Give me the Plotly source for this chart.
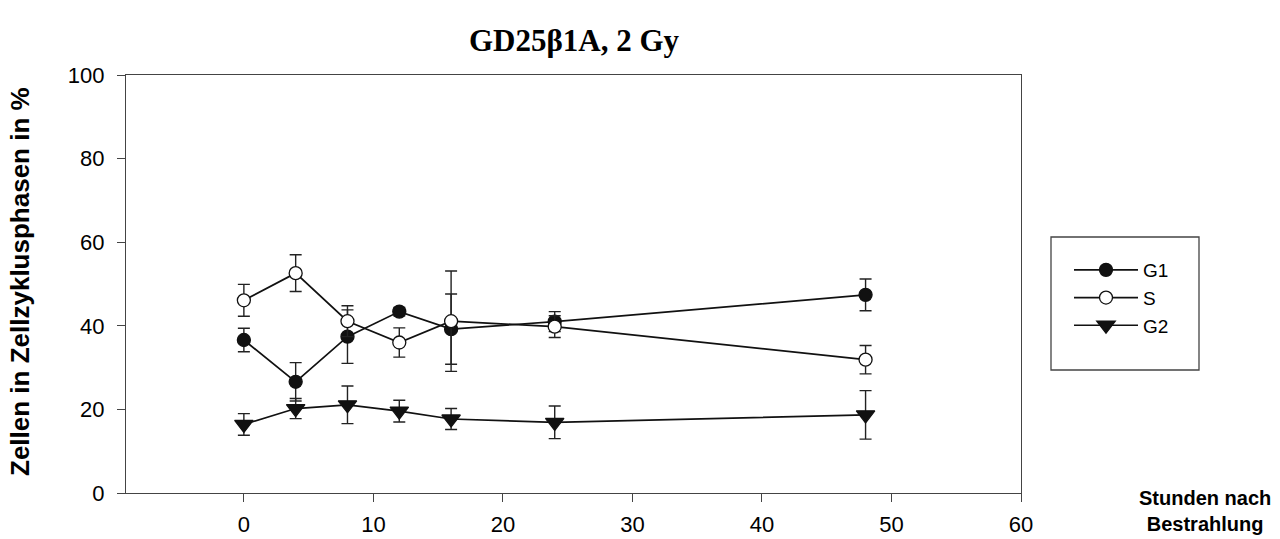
import plotly.graph_objects as go

hours = [0, 4, 8, 12, 16, 24, 48]
g1 = [36.6, 26.6, 37.4, 43.4, 39.2, 41.0, 47.4]
g1_err = [2.8, 4.6, 6.4, 1.0, 8.4, 2.4, 3.8]
s_vals = [46.1, 52.6, 41.1, 36.0, 41.1, 39.8, 31.9]
s_err = [3.8, 4.4, 3.7, 3.5, 12.0, 2.6, 3.4]
g2 = [16.4, 20.2, 21.1, 19.6, 17.7, 16.9, 18.7]
g2_err = [2.6, 2.4, 4.5, 2.6, 2.5, 3.9, 5.8]

series_names = ["G1", "S", "G2"]
x_ticks = [0, 10, 20, 30, 40, 50, 60]
y_ticks = [0, 20, 40, 60, 80, 100]

title_text = "GD25β1A, 2 Gy"
y_title = "Zellen in Zellzyklusphasen in %"
x_title = "Stunden nach<br>Bestrahlung"

ink = "#111111"
axis_col = "#444444"

fig = go.Figure()

def add_series(name, y, err, symbol, fill, size):
    fig.add_trace(go.Scatter(
        x=hours, y=y, name=name, mode="lines+markers",
        line=dict(color=ink, width=1.7),
        marker=dict(symbol=symbol, size=size, color=fill,
                    line=dict(color=ink, width=1.3)),
        error_y=dict(type="data", array=err, visible=True,
                     color="#222222", thickness=1.4, width=6),
    ))

add_series(series_names[0], g1, g1_err, "circle", ink, 13)
add_series(series_names[1], s_vals, s_err, "circle", "white", 13)
add_series(series_names[2], g2, g2_err, "triangle-down", ink, 16)

axis_common = dict(
    showline=True, linecolor=axis_col, linewidth=1.3, mirror=True,
    ticks="outside", ticklen=8, tickwidth=1.3, tickcolor=axis_col,
    showgrid=False, zeroline=False, automargin=False,
    tickfont=dict(family="Liberation Sans, Arial", size=22, color="black"),
)

fig.update_xaxes(range=[-9.1, 60], tickvals=x_ticks, ticklabelstandoff=3, **axis_common)
fig.update_yaxes(range=[0, 100], tickvals=y_ticks, ticklabelstandoff=8, **axis_common)

fig.update_layout(
    width=1280, height=539,
    margin=dict(l=126, r=259, t=75, b=46),
    paper_bgcolor="white", plot_bgcolor="white",
    title=dict(text="<b>" + title_text + "</b>", x=574 / 1280, xanchor="center",
               y=1 - 40 / 539, yanchor="middle",
               font=dict(family="Liberation Serif, Times New Roman", size=31, color="black")),
    showlegend=True,
    legend=dict(x=(1069 - 126) / 895, y=(493 - 251) / 418, xanchor="left", yanchor="top",
                bgcolor="rgba(0,0,0,0)", borderwidth=0,
                font=dict(family="Liberation Sans, Arial", size=19, color="black"),
                tracegroupgap=0, itemwidth=64),
    shapes=[dict(type="rect", xref="paper", yref="paper",
                 x0=(1051 - 126) / 895, x1=(1199 - 126) / 895,
                 y0=(493 - 237) / 418, y1=(493 - 370) / 418,
                 line=dict(color=axis_col, width=1.3), fillcolor="rgba(0,0,0,0)")],
    annotations=[
        dict(text="<b>" + y_title + "</b>", xref="paper", yref="paper",
             x=(20 - 126) / 895, y=(493 - 282) / 418, textangle=-90, showarrow=False,
             xanchor="center", yanchor="middle",
             font=dict(family="Liberation Sans, Arial", size=26, color="black")),
        dict(text="<b>" + x_title + "</b>", xref="paper", yref="paper",
             x=(1205 - 126) / 895, y=(493 - 511) / 418, showarrow=False,
             xanchor="center", yanchor="middle",
             font=dict(family="Liberation Sans, Arial", size=20, color="black")),
    ],
)

fig.write_html("out.html")
